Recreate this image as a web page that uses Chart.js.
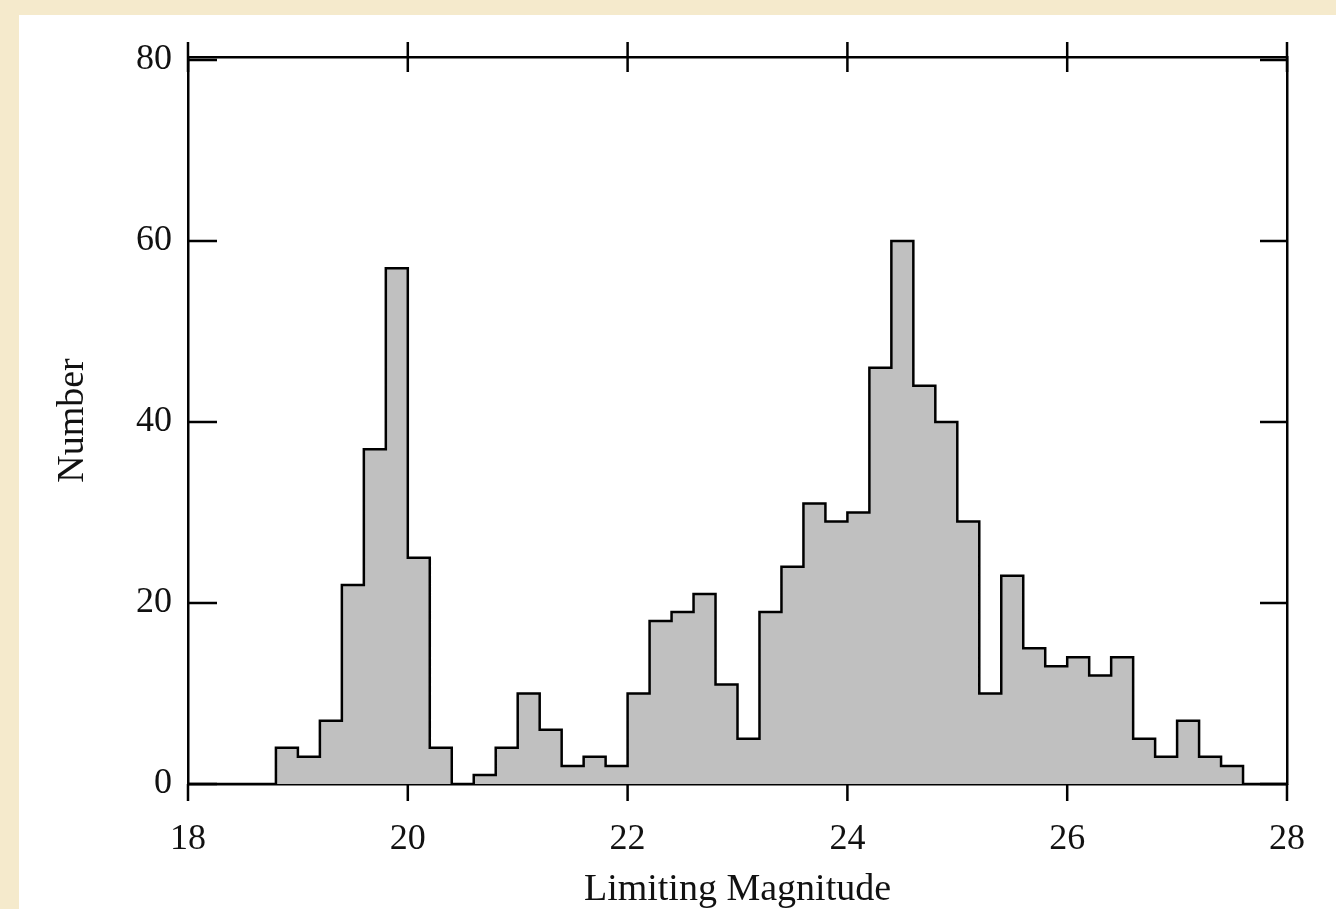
<!DOCTYPE html>
<html><head><meta charset="utf-8">
<script src="https://cdn.jsdelivr.net/npm/chart.js@4.4.1/dist/chart.umd.min.js"></script>
<style>
html,body{margin:0;padding:0;width:1336px;height:909px;overflow:hidden;background:#f5eacc;}
#panel{position:absolute;left:19px;top:15px;right:0;bottom:0;background:#fff;}
#wrap{position:absolute;left:0;top:0;width:1336px;height:909px;}
</style></head><body>
<div id="panel"></div>
<div id="wrap"><canvas id="c" width="1336" height="909"></canvas></div>
<script>
// Histogram bin left edges (bin width 0.2 mag)
const binEdges = [18.0,18.2,18.4,18.6,18.8,19.0,19.2,19.4,19.6,19.8,
                  20.0,20.2,20.4,20.6,20.8,21.0,21.2,21.4,21.6,21.8,
                  22.0,22.2,22.4,22.6,22.8,23.0,23.2,23.4,23.6,23.8,
                  24.0,24.2,24.4,24.6,24.8,25.0,25.2,25.4,25.6,25.8,
                  26.0,26.2,26.4,26.6,26.8,27.0,27.2,27.4,27.6,27.8];
const counts   = [0,0,0,0,4,3,7,22,37,57,
                  25,4,0,1,4,10,6,2,3,2,
                  10,18,19,21,11,5,19,24,31,29,
                  30,46,60,44,40,29,10,23,15,13,
                  14,12,14,5,3,7,3,2,0,0];
const lastEdge = 28.0;
const xTicks = [18,20,22,24,26,28];
const yTicks = [0,20,40,60,80];
const xTitle = 'Limiting Magnitude';
const yTitle = 'Number';

const FONT = '"Liberation Serif", "DejaVu Serif", serif';
const INK = '#111';

const points = binEdges.map((e,i)=>({x:e, y:counts[i]})).concat([{x:lastEdge, y:0}]);

const frameTicks = {
  id:'frameTicks',
  afterDraw(chart){
    const {ctx, chartArea:a, scales:{x,y}} = chart;
    ctx.save();
    ctx.strokeStyle = '#000'; ctx.lineWidth = 2.5; ctx.lineCap = 'butt';
    ctx.beginPath();
    xTicks.forEach(v=>{
      const px = x.getPixelForValue(v);
      ctx.moveTo(px, a.bottom); ctx.lineTo(px, a.bottom + 17);
      ctx.moveTo(px, a.top - 15); ctx.lineTo(px, a.top + 15);
    });
    yTicks.forEach(v=>{
      const py = y.getPixelForValue(v);
      ctx.moveTo(a.left, py); ctx.lineTo(a.left + 29, py);
      ctx.moveTo(a.right, py); ctx.lineTo(a.right - 27, py);
    });
    ctx.stroke();
    ctx.restore();
  }
};

new Chart(document.getElementById('c'), {
  type: 'line',
  data: {
    datasets: [{
      data: points,
      stepped: true,
      fill: 'origin',
      backgroundColor: '#c0c0c0',
      borderColor: '#000',
      borderWidth: 2.5,
      pointRadius: 0,
      tension: 0
    }]
  },
  options: {
    responsive: false,
    animation: false,
    devicePixelRatio: 1,
    layout: { padding: 0 },
    plugins: { legend: {display:false}, tooltip: {enabled:false} },
    scales: {
      x: {
        type: 'linear', position: 'bottom', min: 18, max: 28,
        afterBuildTicks: s => { s.ticks = xTicks.map(v=>({value:v})); },
        afterFit: s => { s.height = 125; },
        ticks: { font:{family:FONT, size:36, lineHeight:2.889}, color:INK, padding:4, maxRotation:0, autoSkip:false },
        grid: { display:false, drawTicks:false },
        border: { display:true, color:'#000', width:2.5 },
        title: { display:true, text:xTitle, color:INK, font:{family:FONT, size:38, lineHeight:1}, padding:{top:0,bottom:0} }
      },
      y: {
        type: 'linear', position: 'left', min: 0, max: 80.33,
        afterBuildTicks: s => { s.ticks = yTicks.map(v=>({value:v})); },
        afterFit: s => { s.width = 188; },
        ticks: { font:{family:FONT, size:36}, color:INK, padding:16 },
        grid: { display:false, drawTicks:false },
        border: { display:true, color:'#000', width:2.5 },
        title: { display:true, text:yTitle, color:INK, font:{family:FONT, size:38, lineHeight:1}, padding:{top:54,bottom:0} }
      },
      xTop: {
        type: 'linear', position: 'top', min: 18, max: 28,
        afterFit: s => { s.height = 57; },
        ticks: { display:false },
        grid: { display:false, drawTicks:false },
        border: { display:true, color:'#000', width:2.5 }
      },
      yRight: {
        type: 'linear', position: 'right', min: 0, max: 80.33,
        afterFit: s => { s.width = 49; },
        ticks: { display:false },
        grid: { display:false, drawTicks:false },
        border: { display:true, color:'#000', width:2.5 }
      }
    }
  },
  plugins: [frameTicks]
});
</script>
</body></html>
